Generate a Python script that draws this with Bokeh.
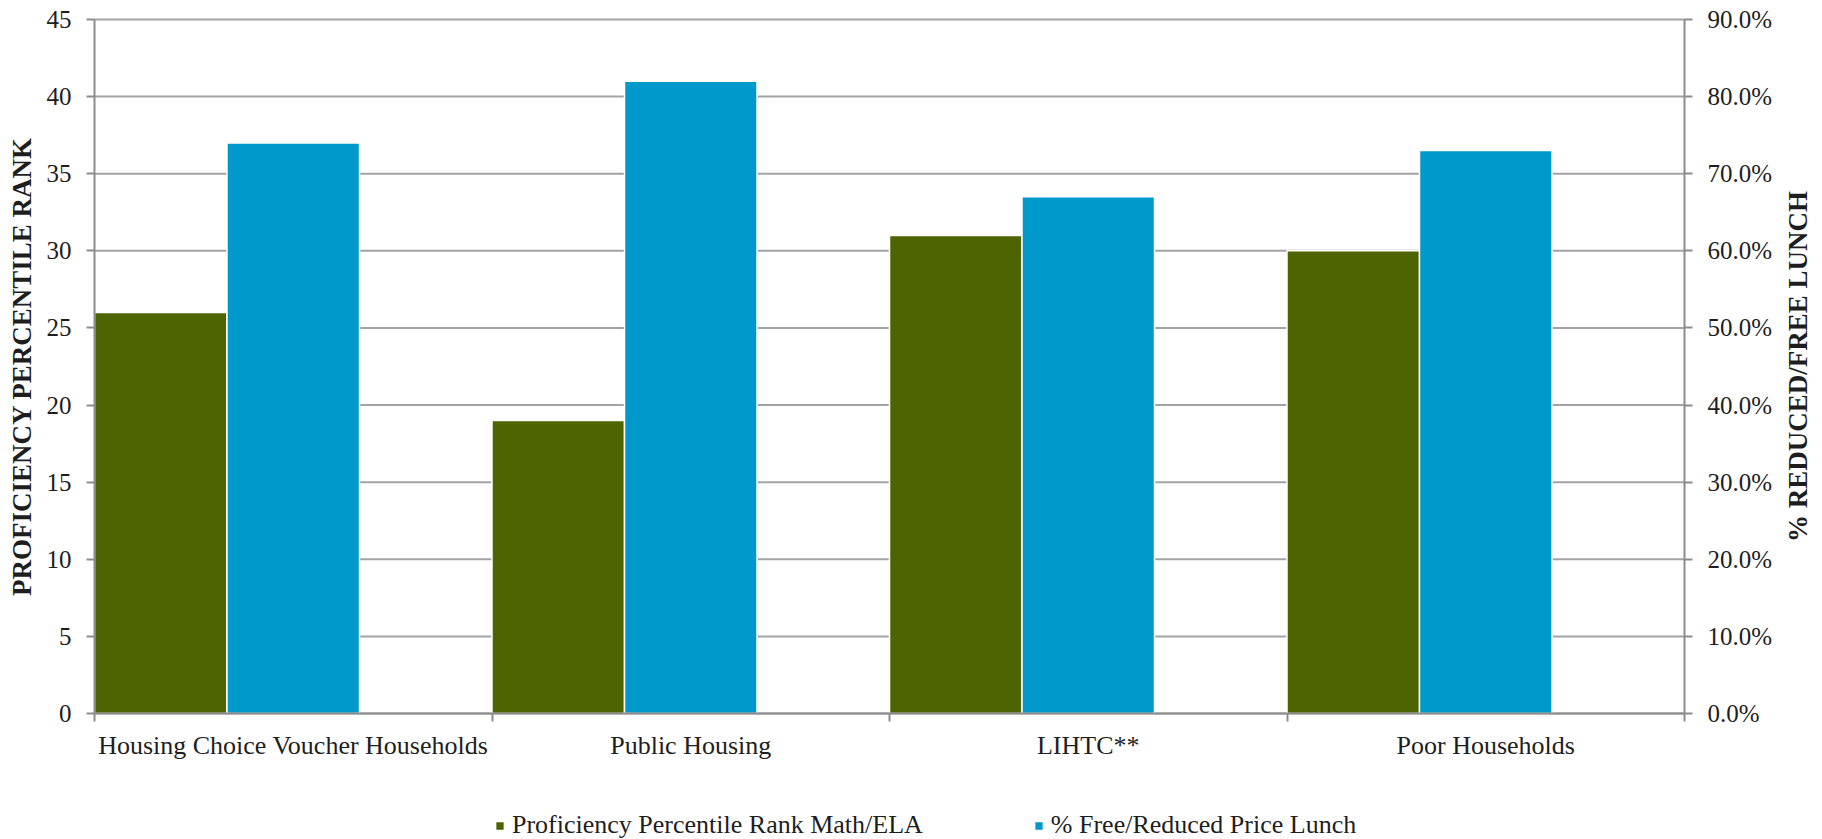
import math
from bokeh.plotting import figure
from bokeh.models import (Range1d, LinearAxis, FixedTicker, NumeralTickFormatter,
                          Legend, LegendItem, ColumnDataSource, Label)
from bokeh.embed import file_html
from bokeh.resources import INLINE

# Chart data
categories = ["Housing Choice Voucher Households", "Public Housing", "LIHTC**", "Poor Households"]
proficiency_rank = [26, 19, 31, 30]              # left axis
free_reduced_lunch = [0.74, 0.82, 0.67, 0.73]    # right axis (share)
left_ticks = [0, 5, 10, 15, 20, 25, 30, 35, 40, 45]
right_ticks = [0.0, 0.1, 0.2, 0.3, 0.4, 0.5, 0.6, 0.7, 0.8, 0.9]

FONT = "Liberation Serif"
GREEN = "#4D6400"
BLUE = "#0099CC"
GRID = "#a3a3a3"
AXIS = "#8c8c8c"
TEXT = "#1e1e1e"

# Page geometry. The drawing frame covers the whole page; the axes are pinned
# to the edges of the bar area so titles, category labels and legend can sit
# around it.
W, H = 1822, 839
AREA_L, AREA_R, AREA_T, AREA_B = 94, 1684, 19, 713
LEFT_MAX, RIGHT_MAX = 45, 0.9
n = len(categories)

x_per_px = n / (AREA_R - AREA_L)
y_per_px = LEFT_MAX / (AREA_B - AREA_T)
x_lo, x_hi = -AREA_L * x_per_px, n + (W - AREA_R) * x_per_px
y_lo, y_hi = -(H - AREA_B) * y_per_px, LEFT_MAX + AREA_T * y_per_px
pct_scale = RIGHT_MAX / LEFT_MAX


def x_at(px):
    return (px - AREA_L) * x_per_px


slot = 1 / 3  # each category holds three equal slots; the third stays empty
idx = list(range(n))
src = ColumnDataSource(dict(
    cat=categories,
    x_rank=[i + slot / 2 for i in idx],
    x_lunch=[i + slot * 1.5 for i in idx],
    rank=proficiency_rank,
    lunch=free_reduced_lunch,
))

p = figure(width=W, height=H, output_backend="svg", toolbar_location=None,
           x_range=Range1d(x_lo, x_hi), y_range=Range1d(y_lo, y_hi),
           min_border=0, outline_line_color=None,
           background_fill_color="white", border_fill_color="white")
p.extra_y_ranges = {"pct": Range1d(y_lo * pct_scale, y_hi * pct_scale)}
p.xgrid.visible = False
p.ygrid.visible = False

# horizontal gridlines across the bar area only
p.segment(x0=0, x1=n, y0=left_ticks, y1=left_ticks, line_color=GRID,
          line_width=2, level="underlay")

green = p.vbar(x="x_rank", top="rank", width=slot, bottom=0, source=src,
               fill_color=GREEN, line_color="white", line_width=1.5)
blue = p.vbar(x="x_lunch", top="lunch", width=slot, bottom=0, source=src,
              y_range_name="pct", fill_color=BLUE, line_color="white", line_width=1.5)


def style_value_axis(ax):
    ax.major_label_text_font = FONT
    ax.major_label_text_font_size = "25px"
    ax.major_label_text_color = TEXT
    ax.major_label_standoff = 15
    ax.major_tick_out = 8
    ax.major_tick_in = 0
    ax.minor_tick_line_color = None
    ax.axis_line_color = AXIS
    ax.axis_line_width = 2
    ax.major_tick_line_color = AXIS
    ax.major_tick_line_width = 2


# left axis
ya = p.yaxis[0]
ya.ticker = FixedTicker(ticks=left_ticks)
ya.bounds = (0, LEFT_MAX)
ya.fixed_location = 0
style_value_axis(ya)

# right axis with percentage labels
ra = LinearAxis(y_range_name="pct", ticker=FixedTicker(ticks=right_ticks),
                formatter=NumeralTickFormatter(format="0.0%"),
                bounds=(0, RIGHT_MAX), fixed_location=n)
style_value_axis(ra)
p.add_layout(ra, "right")

# category axis on the zero line: labels at category centres,
# tick marks at category boundaries
xa = p.xaxis[0]
xa.fixed_location = 0
xa.bounds = (0, n)
centres = [i + 0.5 for i in idx]
xa.ticker = FixedTicker(ticks=centres, minor_ticks=list(range(n + 1)))
xa.major_label_overrides = {c: name for c, name in zip(centres, categories)}
xa.major_label_text_font = FONT
xa.major_label_text_font_size = "26px"
xa.major_label_text_color = TEXT
xa.major_label_standoff = 9
xa.major_tick_out = 0
xa.major_tick_in = 0
xa.major_tick_line_color = None
xa.minor_tick_out = 8
xa.minor_tick_in = 0
xa.minor_tick_line_color = AXIS
xa.minor_tick_line_width = 2
xa.axis_line_color = AXIS
xa.axis_line_width = 2

# axis titles, read bottom-to-top, centred on the value range
title_style = dict(angle=math.pi / 2, text_align="center", text_baseline="middle",
                   text_font=FONT, text_font_style="bold", text_font_size="27px",
                   text_color=TEXT)
p.add_layout(Label(x=x_at(21), y=LEFT_MAX / 2, text="PROFICIENCY PERCENTILE RANK",
                   **title_style))
p.add_layout(Label(x=x_at(1797), y=LEFT_MAX / 2, text="% REDUCED/FREE LUNCH",
                   **title_style))

legend = Legend(items=[
    LegendItem(label="Proficiency Percentile Rank Math/ELA", renderers=[green]),
    LegendItem(label="% Free/Reduced Price Lunch", renderers=[blue]),
], orientation="horizontal", location=(494, -1), glyph_width=11, glyph_height=11,
    label_standoff=7, spacing=110, padding=0, margin=0, border_line_color=None,
    background_fill_alpha=0, label_text_font=FONT, label_text_font_size="26px",
    label_text_color=TEXT, label_height=26)
p.add_layout(legend)

open("out.html", "w").write(file_html(p, INLINE))
